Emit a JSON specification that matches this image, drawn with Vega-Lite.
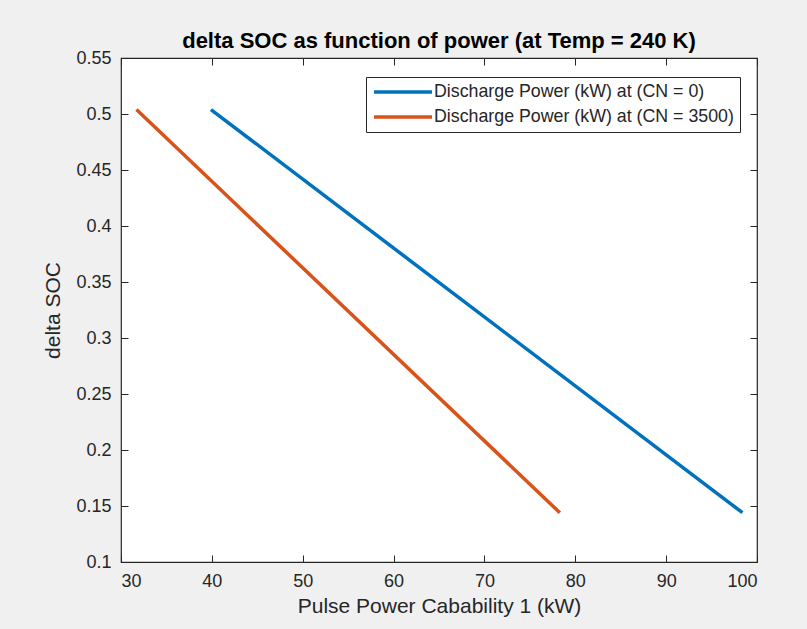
{
  "$schema": "https://vega.github.io/schema/vega-lite/v6.json",
  "autosize": {"type": "none"},
  "width": 636,
  "height": 504,
  "padding": {"left": 121, "top": 58, "right": 50, "bottom": 67},
  "background": "#f0f0f0",
  "config": {
    "view": {"fill": "white", "stroke": "#262626", "strokeWidth": 1.2},
    "font": "Liberation Sans"
  },
  "title": {
    "text": "delta SOC as function of power (at Temp = 240 K)",
    "fontSize": 22,
    "fontWeight": "bold",
    "color": "black",
    "offset": -4,
    "anchor": "middle"
  },
  "data": {
    "values": [
      {"series": "Discharge Power (kW) at (CN = 0)", "power": 39.9, "soc": 0.504},
      {"series": "Discharge Power (kW) at (CN = 0)", "power": 98.4, "soc": 0.144},
      {"series": "Discharge Power (kW) at (CN = 3500)", "power": 31.7, "soc": 0.504},
      {"series": "Discharge Power (kW) at (CN = 3500)", "power": 78.3, "soc": 0.144}
    ]
  },
  "layer": [
    {
      "mark": {"type": "line", "strokeWidth": 3.5, "strokeCap": "butt"},
      "encoding": {
        "x": {
          "field": "power", "type": "quantitative",
          "scale": {"domain": [30, 100], "nice": false, "zero": false},
          "axis": {
            "orient": "bottom", "values": [30, 40, 50, 60, 70, 80, 90, 100],
            "grid": false, "domain": false, "tickSize": -7, "tickColor": "#262626",
            "labelFontSize": 18, "labelColor": "#262626", "labelPadding": 17,
            "title": "Pulse Power Cabability 1 (kW)", "titleFontSize": 21,
            "titleFontWeight": "normal", "titleColor": "#262626", "titlePadding": 5
          }
        },
        "y": {
          "field": "soc", "type": "quantitative",
          "scale": {"domain": [0.1, 0.55], "nice": false, "zero": false},
          "axis": {
            "orient": "left", "values": [0.1, 0.15, 0.2, 0.25, 0.3, 0.35, 0.4, 0.45, 0.5, 0.55],
            "format": ".2~f",
            "grid": false, "domain": false, "tickSize": -7, "tickColor": "#262626",
            "labelFontSize": 18, "labelColor": "#262626", "labelPadding": 17,
            "title": "delta SOC", "titleFontSize": 21,
            "titleFontWeight": "normal", "titleColor": "#262626", "titlePadding": 12
          }
        },
        "color": {
          "field": "series", "type": "nominal",
          "scale": {
            "domain": ["Discharge Power (kW) at (CN = 0)", "Discharge Power (kW) at (CN = 3500)"],
            "range": ["#0072BD", "#D95319"]
          },
          "legend": {
            "title": null,
            "orient": "none",
            "legendX": 245,
            "legendY": 19,
            "fillColor": "white",
            "strokeColor": "#262626",
            "padding": 6,
            "symbolType": "M-4,0H4",
            "symbolSize": 210,
            "symbolOffset": 22,
            "symbolStrokeWidth": 3.5,
            "labelFontSize": 17.8,
            "labelColor": "#262626",
            "labelOffset": 22,
            "labelLimit": 0,
            "rowPadding": 7
          }
        }
      }
    },
    {
      "mark": {"type": "line", "opacity": 0},
      "encoding": {
        "x": {
          "field": "power", "type": "quantitative",
          "axis": {
            "orient": "top", "values": [30, 40, 50, 60, 70, 80, 90, 100],
            "grid": false, "domain": false, "labels": false, "tickSize": -7,
            "tickColor": "#262626", "title": null
          }
        },
        "y": {
          "field": "soc", "type": "quantitative",
          "axis": {
            "orient": "right", "values": [0.1, 0.15, 0.2, 0.25, 0.3, 0.35, 0.4, 0.45, 0.5, 0.55],
            "grid": false, "domain": false, "labels": false, "tickSize": -7,
            "tickColor": "#262626", "title": null
          }
        },
        "detail": {"field": "series"}
      }
    }
  ],
  "resolve": {"axis": {"x": "independent", "y": "independent"}}
}
